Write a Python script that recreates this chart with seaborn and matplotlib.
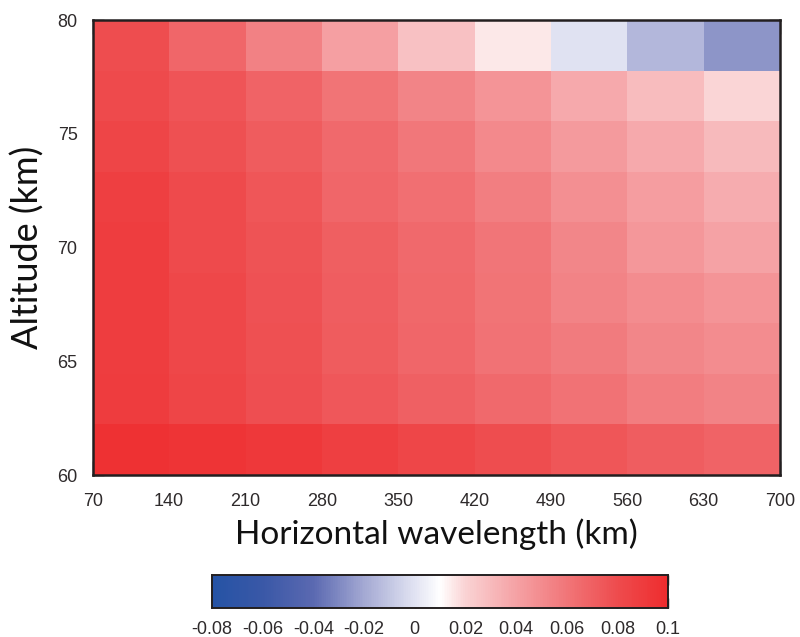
import numpy as np
import pandas as pd
import matplotlib
matplotlib.use("Agg")
import matplotlib.pyplot as plt
from matplotlib.colors import LinearSegmentedColormap
import seaborn as sns

# Cell edges (km)
wavelength_edges = [70, 140, 210, 280, 350, 420, 490, 560, 630, 700]
altitude_edges = list(np.linspace(60, 80, 10))
altitude_ticks = [60, 65, 70, 75, 80]
cbar_ticks = [-0.08, -0.06, -0.04, -0.02, 0, 0.02, 0.04, 0.06, 0.08, 0.1]

# Values per altitude band, listed from the top band (80 km) downwards;
# each row holds the nine wavelength bins from 70 to 700 km.
row_1 = [0.0795, 0.0670, 0.0545, 0.0410, 0.0270, 0.0150, 0.0000, -0.0150, -0.0260]
row_2 = [0.0810, 0.0757, 0.0686, 0.0610, 0.0530, 0.0460, 0.0370, 0.0290, 0.0195]
row_3 = [0.0844, 0.0781, 0.0724, 0.0657, 0.0595, 0.0514, 0.0436, 0.0371, 0.0298]
row_4 = [0.0880, 0.0806, 0.0748, 0.0676, 0.0629, 0.0560, 0.0482, 0.0418, 0.0359]
row_5 = [0.0894, 0.0810, 0.0762, 0.0710, 0.0657, 0.0605, 0.0523, 0.0450, 0.0396]
row_6 = [0.0894, 0.0829, 0.0771, 0.0714, 0.0667, 0.0610, 0.0540, 0.0495, 0.0460]
row_7 = [0.0888, 0.0825, 0.0776, 0.0724, 0.0671, 0.0619, 0.0577, 0.0523, 0.0495]
row_8 = [0.0900, 0.0844, 0.0786, 0.0743, 0.0700, 0.0657, 0.0619, 0.0568, 0.0540]
row_9 = [0.0969, 0.0944, 0.0919, 0.0875, 0.0838, 0.0790, 0.0748, 0.0714, 0.0686]

vmin, vmax = -0.08, 0.1

bin_labels = [f"{a}-{b}" for a, b in zip(wavelength_edges[:-1], wavelength_edges[1:])]
band_labels = [f"{altitude_edges[i]:.1f}" for i in range(8, -1, -1)]
grid = pd.DataFrame([row_1, row_2, row_3, row_4, row_5, row_6, row_7, row_8, row_9],
                    index=band_labels, columns=bin_labels)

# Diverging blue-white-red palette, white sitting at the middle of the range
stops = [(-0.08, "#2553a5"), (-0.06, "#3a58a7"), (-0.04, "#5b69b1"),
         (-0.02, "#a4a9d3"), (0.0, "#e1e3f2"), (0.01, "#ffffff"),
         (0.02, "#fad3d4"), (0.04, "#f5a2a5"), (0.06, "#f17679"),
         (0.08, "#ee4c4e"), (0.1, "#ee2c2e")]
cmap = LinearSegmentedColormap.from_list(
    "bwr_soft", [((v - vmin) / (vmax - vmin), c) for v, c in stops])

sns.set_theme(style="white")
plt.rcParams["font.family"] = ["Liberation Sans", "DejaVu Sans"]

fig = plt.figure(figsize=(8, 6.37), dpi=100)
ax = fig.add_axes([0.116, 0.2543, 0.859, 0.7143])
cax = fig.add_axes([0.265, 0.0455, 0.57, 0.0518])

sns.heatmap(grid, ax=ax, cmap=cmap, vmin=vmin, vmax=vmax, cbar=True, cbar_ax=cax,
            cbar_kws={"orientation": "horizontal", "ticks": cbar_ticks},
            xticklabels=False, yticklabels=False)

frame_color = "#231f20"
tick_color = "#2e2a2b"
label_font = ["Lato", "DejaVu Sans"]

# x ticks sit on the bin edges
ax.set_xticks(np.arange(len(wavelength_edges)))
ax.set_xticklabels([str(w) for w in wavelength_edges], fontsize=13, color=tick_color)

# y ticks placed by interpolating altitude onto row positions
n_rows = len(altitude_edges) - 1
row_pos = n_rows - np.arange(len(altitude_edges))
ax.set_yticks(np.interp(altitude_ticks, altitude_edges, row_pos))
ax.set_yticklabels([str(a) for a in altitude_ticks], fontsize=13, color=tick_color,
                   rotation=0)

ax.tick_params(axis="x", direction="in", length=10, width=1.0, color=frame_color,
               top=True, bottom=True, pad=13)
ax.tick_params(axis="y", direction="in", length=8, width=1.0, color=frame_color,
               left=True, right=True, pad=11)

for spine in ax.spines.values():
    spine.set_visible(True)
    spine.set_color(frame_color)
    spine.set_linewidth(1.8)

ax.set_xlabel("Horizontal wavelength (km)", fontsize=24, family=label_font,
              color="#111111", labelpad=6)
ax.set_ylabel("Altitude (km)", fontsize=26, family=label_font,
              color="#111111", labelpad=9)

# colorbar styling
cax.tick_params(axis="x", direction="in", length=7, width=1.0, color=frame_color,
                top=True, bottom=True, labelsize=13, labelcolor=tick_color, pad=9)
cax.set_xticklabels([f"{t:g}" for t in cbar_ticks])
for spine in cax.spines.values():
    spine.set_visible(True)
    spine.set_color(frame_color)
    spine.set_linewidth(1.2)

fig.savefig("out.png", dpi=100)
